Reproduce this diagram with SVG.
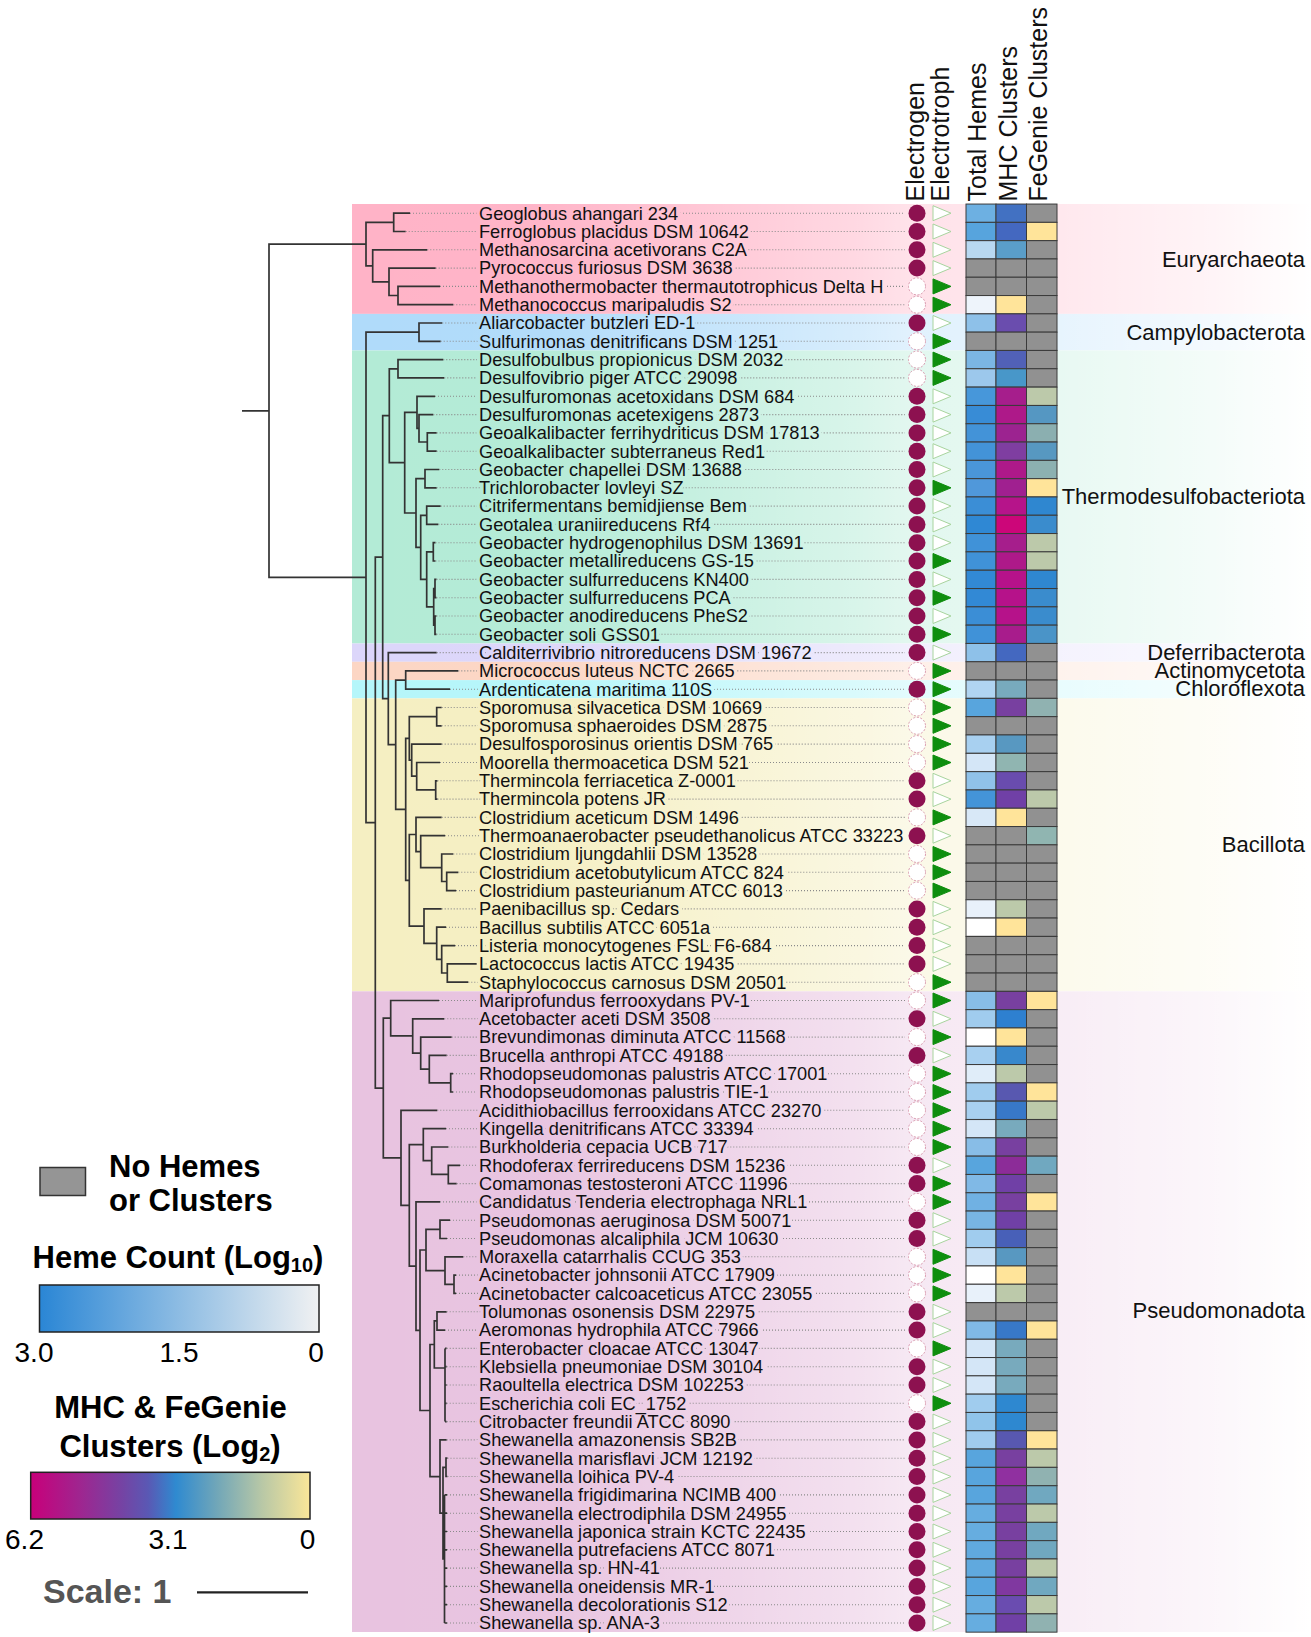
<svg xmlns="http://www.w3.org/2000/svg" width="1311" height="1637" viewBox="0 0 1311 1637">
<style>
text{font-family:"Liberation Sans",Arial,sans-serif}
.lab{font-size:18.2px;fill:#111}
.hd{font-size:25px;fill:#111}
.ph{font-size:22px;fill:#111;text-anchor:end}
.f{fill:#8D1150}
.o{fill:#fff;stroke:#D99AAE;stroke-width:1;stroke-dasharray:2 1.6}
.g{fill:#0E8E0E;stroke:#0E8E0E;stroke-width:1}
.w{fill:#fff;stroke:#A8D49E;stroke-width:1}
.c{stroke:#3a3a3a;stroke-width:1}
.n{fill:#919191}
.tree{fill:none;stroke:#333;stroke-width:1.7}
.dots{fill:none;stroke:#8a8a8a;stroke-width:1.1;stroke-dasharray:1 2}
.lg{font-weight:bold;font-size:31px;fill:#000}
.tk{font-size:28px;fill:#000;text-anchor:middle}
</style>
<defs>
<linearGradient id="fade" gradientUnits="userSpaceOnUse" x1="352" y1="0" x2="1311" y2="0">
<stop offset="0" stop-color="#fff" stop-opacity="0"/>
<stop offset="0.2" stop-color="#fff" stop-opacity="0.03"/>
<stop offset="0.53" stop-color="#fff" stop-opacity="0.5"/>
<stop offset="0.58" stop-color="#fff" stop-opacity="0.62"/>
<stop offset="0.74" stop-color="#fff" stop-opacity="0.7"/>
<stop offset="0.9" stop-color="#fff" stop-opacity="0.86"/>
<stop offset="1" stop-color="#fff" stop-opacity="1"/>
</linearGradient>
<linearGradient id="hg" x1="0" y1="0" x2="1" y2="0">
<stop offset="0" stop-color="#2A86D5"/>
<stop offset="0.5" stop-color="#8DBCE3"/>
<stop offset="1" stop-color="#F0F1F2"/>
</linearGradient>
<linearGradient id="cg" x1="0" y1="0" x2="1" y2="0">
<stop offset="0" stop-color="#C8007A"/>
<stop offset="0.18" stop-color="#9E2690"/>
<stop offset="0.33" stop-color="#7444A4"/>
<stop offset="0.42" stop-color="#5A58B4"/>
<stop offset="0.52" stop-color="#2F8AD0"/>
<stop offset="0.67" stop-color="#72A7B8"/>
<stop offset="0.83" stop-color="#B9C8A6"/>
<stop offset="1" stop-color="#FAE698"/>
</linearGradient>
<path id="tri" d="M933 -7.5L951 0L933 7.5Z"/>
<mask id="lm" maskUnits="userSpaceOnUse" x="0" y="0" width="1311" height="1637">
<rect width="1311" height="1637" fill="#fff"/>
<use href="#taxa" fill="#000" stroke="#000" stroke-width="7"/>
</mask>
</defs>

<g id="bands">
<rect x="352" y="204" width="959" height="109.9" fill="#FFB3C7"/>
<rect x="352" y="313.9" width="959" height="36.6" fill="#B0DBFA"/>
<rect x="352" y="350.5" width="959" height="293" fill="#B3EBD6"/>
<rect x="352" y="643.5" width="959" height="18.3" fill="#DCD6FA"/>
<rect x="352" y="661.8" width="959" height="18.3" fill="#FCD6C4"/>
<rect x="352" y="680.1" width="959" height="18.3" fill="#B5F6FA"/>
<rect x="352" y="698.4" width="959" height="292.9" fill="#F5EFC2"/>
<rect x="352" y="991.3" width="959" height="640.7" fill="#E8C3E0"/>
<rect x="352" y="204" width="959" height="1428" fill="url(#fade)"/>
</g>

<g id="connectors">
<g id="tree" class="tree">
<path d="M242 410.8H269 M366 244.1H269V577.4H366"/>
<path d="M393.7 222.3H366V265.8H372.7 M410 213.2H393.7V231.5H405.7 M427.3 249.8H372.7V281.8H389 M435.7 268.1H389V295.5H398 M440 286.4H398V304.7H453.3"/>
<path d="M419 332.2H366V822.6H375.3 M442.3 323H419V341.3H440.7"/>
<path d="M382.7 557.2H375.3V1088.1H383.3 M389.3 415.7H382.7V698.6H388.3"/>
<path d="M398 368.8H389.3V462.6H404.7 M443.3 359.6H398V377.9H444.3 M417 412.3H404.7V513H416 M435 396.3H417V428.3H419 M433.3 414.6H419V442H427.3 M436.7 432.9H427.3V451.2H436.7 M425 478.7H416V547.3H420.7 M439.3 469.5H425V487.8H436.7 M426.7 515.3H420.7V579.4H426.7 M440.7 506.1H426.7V524.4H438.3 M433.3 551.9H426.7V606.8H433.7 M435.5 542.7H433.3V561H435.5 M435 588.5H433.7V625.1H435 M436.5 579.4H435V597.7H436.5 M436.5 616H435V634.3H436.5"/>
<path d="M436.7 652.6H388.3V744.7H395.7 M405.7 680.1H395.7V809.4H405.7 M458.3 670.9H405.7V689.2H450"/>
<path d="M409.3 738.4H405.7V880.3H409.3 M436.7 716.7H409.3V760.2H411.7 M441.7 707.5H436.7V725.8H441.7 M441.7 744.1H411.7V776.2H416.7 M440 762.5H416.7V789.9H435.7 M437.5 780.8H435.7V799.1H437.5 M416 834.5H409.3V926.1H424 M441.7 817.4H416V851.7H420.7 M445 835.7H420.7V867.7H441.7 M453.3 854H441.7V881.5H446.7 M458.3 872.3H446.7V890.6H456 M441.7 908.9H424V943.3H436.7 M446 927.2H436.7V959.3H441.7 M455 945.6H441.7V973H447.3 M476.7 963.9H447.3V982.2H468.3"/>
<path d="M390.7 1018.2H383.3V1157.9H401 M439 1000.5H390.7V1035.9H412.7 M444.3 1018.8H412.7V1053.1H420.7 M451.7 1037.1H420.7V1069.2H429.3 M446.7 1055.4H429.3V1082.9H450.7 M453 1073.7H450.7V1092H453 M437.3 1110.3H401V1205.4H409.3 M423.3 1144.7H409.3V1266.1H416 M446 1128.7H423.3V1160.7H431.7 M448.3 1147H431.7V1174.4H448.3 M460 1165.3H448.3V1183.6H456.7 M440 1201.9H416V1330.3H420 M426 1250H420V1410.5H430 M440 1229.4H426V1270.6H445 M450 1220.2H440V1238.5H447 M463.3 1256.8H445V1284.3H454 M456 1275.1H454V1293.4H456 M434.3 1344.5H430V1476.6H440 M437 1320.9H434.3V1368H445 M446.7 1311.8H437V1330.1H445 M445 1348.4V1421.6 M445 1348.4H446.7 M445 1366.7H446.7 M445 1385H446.7 M445 1403.3H446.7 M445 1421.6H446.7 M446.7 1439.9H440V1513.2H443 M446 1467.4H443V1558.9H444.5 M447.5 1458.2H446V1476.5H447.5 M444.5 1494.9V1623 M444.5 1494.9H447 M444.5 1513.2H447 M444.5 1531.5H447 M444.5 1549.8H447 M444.5 1568.1H447 M444.5 1586.4H447 M444.5 1604.7H447 M444.5 1623H447"/>
</g>
<path id="leaders" class="dots" mask="url(#lm)" d="M410 213.2H905 M405.7 231.5H905 M427.3 249.8H905 M435.7 268.1H905 M440 286.4H905 M453.3 304.7H905 M442.3 323H905 M440.7 341.3H905 M443.3 359.6H905 M444.3 377.9H905 M435 396.3H905 M433.3 414.6H905 M436.7 432.9H905 M436.7 451.2H905 M439.3 469.5H905 M436.7 487.8H905 M440.7 506.1H905 M438.3 524.4H905 M435.5 542.7H905 M435.5 561H905 M436.5 579.4H905 M436.5 597.7H905 M436.5 616H905 M436.5 634.3H905 M436.7 652.6H905 M458.3 670.9H905 M450 689.2H905 M441.7 707.5H905 M441.7 725.8H905 M441.7 744.1H905 M440 762.5H905 M437.5 780.8H905 M437.5 799.1H905 M441.7 817.4H905 M445 835.7H905 M453.3 854H905 M458.3 872.3H905 M456 890.6H905 M441.7 908.9H905 M446 927.2H905 M455 945.6H905 M476.7 963.9H905 M468.3 982.2H905 M439 1000.5H905 M444.3 1018.8H905 M451.7 1037.1H905 M446.7 1055.4H905 M453 1073.7H905 M453 1092H905 M437.3 1110.3H905 M446 1128.7H905 M448.3 1147H905 M460 1165.3H905 M456.7 1183.6H905 M440 1201.9H905 M450 1220.2H905 M447 1238.5H905 M463.3 1256.8H905 M456 1275.1H905 M456 1293.4H905 M446.7 1311.8H905 M445 1330.1H905 M446.7 1348.4H905 M446.7 1366.7H905 M446.7 1385H905 M446.7 1403.3H905 M446.7 1421.6H905 M446.7 1439.9H905 M447.5 1458.2H905 M447.5 1476.5H905 M447 1494.9H905 M447 1513.2H905 M447 1531.5H905 M447 1549.8H905 M447 1568.1H905 M447 1586.4H905 M447 1604.7H905 M447 1623H905"/>
</g>

<g id="taxa">
<g id="t01" transform="translate(0 213.2)"><text class="lab" x="479" y="6.3">Geoglobus ahangari 234</text><circle class="f" cx="917" r="8.5"/><use href="#tri" class="w"/><rect class="c" x="966" y="-9.15" width="30" height="18.3" fill="#6DB0E2"/><rect class="c" x="996" y="-9.15" width="30.5" height="18.3" fill="#4271C2"/><rect class="c n" x="1026.5" y="-9.15" width="30.5" height="18.3"/></g>
<g id="t02" transform="translate(0 231.5)"><text class="lab" x="479" y="6.3">Ferroglobus placidus DSM 10642</text><circle class="f" cx="917" r="8.5"/><use href="#tri" class="w"/><rect class="c" x="966" y="-9.15" width="30" height="18.3" fill="#57A4DD"/><rect class="c" x="996" y="-9.15" width="30.5" height="18.3" fill="#4468C0"/><rect class="c" x="1026.5" y="-9.15" width="30.5" height="18.3" fill="#FFE49A"/></g>
<g id="t03" transform="translate(0 249.8)"><text class="lab" x="479" y="6.3">Methanosarcina acetivorans C2A</text><circle class="f" cx="917" r="8.5"/><use href="#tri" class="w"/><rect class="c" x="966" y="-9.15" width="30" height="18.3" fill="#B8D8F1"/><rect class="c" x="996" y="-9.15" width="30.5" height="18.3" fill="#5A9EC9"/><rect class="c n" x="1026.5" y="-9.15" width="30.5" height="18.3"/></g>
<g id="t04" transform="translate(0 268.1)"><text class="lab" x="479" y="6.3">Pyrococcus furiosus DSM 3638</text><circle class="f" cx="917" r="8.5"/><use href="#tri" class="w"/><rect class="c n" x="966" y="-9.15" width="30" height="18.3"/><rect class="c n" x="996" y="-9.15" width="30.5" height="18.3"/><rect class="c n" x="1026.5" y="-9.15" width="30.5" height="18.3"/></g>
<g id="t05" transform="translate(0 286.4)"><text class="lab" x="479" y="6.3">Methanothermobacter thermautotrophicus Delta H</text><circle class="o" cx="917" r="8.5"/><use href="#tri" class="g"/><rect class="c n" x="966" y="-9.15" width="30" height="18.3"/><rect class="c n" x="996" y="-9.15" width="30.5" height="18.3"/><rect class="c n" x="1026.5" y="-9.15" width="30.5" height="18.3"/></g>
<g id="t06" transform="translate(0 304.7)"><text class="lab" x="479" y="6.3">Methanococcus maripaludis S2</text><circle class="o" cx="917" r="8.5"/><use href="#tri" class="g"/><rect class="c" x="966" y="-9.15" width="30" height="18.3" fill="#EEF4FB"/><rect class="c" x="996" y="-9.15" width="30.5" height="18.3" fill="#FFE49A"/><rect class="c n" x="1026.5" y="-9.15" width="30.5" height="18.3"/></g>
<g id="t07" transform="translate(0 323)"><text class="lab" x="479" y="6.3">Aliarcobacter butzleri ED-1</text><circle class="f" cx="917" r="8.5"/><use href="#tri" class="w"/><rect class="c" x="966" y="-9.15" width="30" height="18.3" fill="#8EC1E9"/><rect class="c" x="996" y="-9.15" width="30.5" height="18.3" fill="#6A4DAE"/><rect class="c n" x="1026.5" y="-9.15" width="30.5" height="18.3"/></g>
<g id="t08" transform="translate(0 341.3)"><text class="lab" x="479" y="6.3">Sulfurimonas denitrificans DSM 1251</text><circle class="o" cx="917" r="8.5"/><use href="#tri" class="g"/><rect class="c n" x="966" y="-9.15" width="30" height="18.3"/><rect class="c n" x="996" y="-9.15" width="30.5" height="18.3"/><rect class="c n" x="1026.5" y="-9.15" width="30.5" height="18.3"/></g>
<g id="t09" transform="translate(0 359.6)"><text class="lab" x="479" y="6.3">Desulfobulbus propionicus DSM 2032</text><circle class="o" cx="917" r="8.5"/><use href="#tri" class="g"/><rect class="c" x="966" y="-9.15" width="30" height="18.3" fill="#7BB6E4"/><rect class="c" x="996" y="-9.15" width="30.5" height="18.3" fill="#5161B7"/><rect class="c n" x="1026.5" y="-9.15" width="30.5" height="18.3"/></g>
<g id="t10" transform="translate(0 377.9)"><text class="lab" x="479" y="6.3">Desulfovibrio piger ATCC 29098</text><circle class="o" cx="917" r="8.5"/><use href="#tri" class="g"/><rect class="c" x="966" y="-9.15" width="30" height="18.3" fill="#9CC8EC"/><rect class="c" x="996" y="-9.15" width="30.5" height="18.3" fill="#4897C9"/><rect class="c n" x="1026.5" y="-9.15" width="30.5" height="18.3"/></g>
<g id="t11" transform="translate(0 396.3)"><text class="lab" x="479" y="6.3">Desulfuromonas acetoxidans DSM 684</text><circle class="f" cx="917" r="8.5"/><use href="#tri" class="w"/><rect class="c" x="966" y="-9.15" width="30" height="18.3" fill="#4797DA"/><rect class="c" x="996" y="-9.15" width="30.5" height="18.3" fill="#A61E8C"/><rect class="c" x="1026.5" y="-9.15" width="30.5" height="18.3" fill="#BCC9AA"/></g>
<g id="t12" transform="translate(0 414.6)"><text class="lab" x="479" y="6.3">Desulfuromonas acetexigens 2873</text><circle class="f" cx="917" r="8.5"/><use href="#tri" class="w"/><rect class="c" x="966" y="-9.15" width="30" height="18.3" fill="#388CD6"/><rect class="c" x="996" y="-9.15" width="30.5" height="18.3" fill="#AE1989"/><rect class="c" x="1026.5" y="-9.15" width="30.5" height="18.3" fill="#5597C2"/></g>
<g id="t13" transform="translate(0 432.9)"><text class="lab" x="479" y="6.3">Geoalkalibacter ferrihydriticus DSM 17813</text><circle class="f" cx="917" r="8.5"/><use href="#tri" class="w"/><rect class="c" x="966" y="-9.15" width="30" height="18.3" fill="#4393D8"/><rect class="c" x="996" y="-9.15" width="30.5" height="18.3" fill="#9C2390"/><rect class="c" x="1026.5" y="-9.15" width="30.5" height="18.3" fill="#8BAFB0"/></g>
<g id="t14" transform="translate(0 451.2)"><text class="lab" x="479" y="6.3">Geoalkalibacter subterraneus Red1</text><circle class="f" cx="917" r="8.5"/><use href="#tri" class="w"/><rect class="c" x="966" y="-9.15" width="30" height="18.3" fill="#4393D8"/><rect class="c" x="996" y="-9.15" width="30.5" height="18.3" fill="#7F3EA1"/><rect class="c" x="1026.5" y="-9.15" width="30.5" height="18.3" fill="#5798C1"/></g>
<g id="t15" transform="translate(0 469.5)"><text class="lab" x="479" y="6.3">Geobacter chapellei DSM 13688</text><circle class="f" cx="917" r="8.5"/><use href="#tri" class="w"/><rect class="c" x="966" y="-9.15" width="30" height="18.3" fill="#4A96D9"/><rect class="c" x="996" y="-9.15" width="30.5" height="18.3" fill="#AE1989"/><rect class="c" x="1026.5" y="-9.15" width="30.5" height="18.3" fill="#8CB1B1"/></g>
<g id="t16" transform="translate(0 487.8)"><text class="lab" x="479" y="6.3">Trichlorobacter lovleyi SZ</text><circle class="f" cx="917" r="8.5"/><use href="#tri" class="g"/><rect class="c" x="966" y="-9.15" width="30" height="18.3" fill="#5098DA"/><rect class="c" x="996" y="-9.15" width="30.5" height="18.3" fill="#A02090"/><rect class="c" x="1026.5" y="-9.15" width="30.5" height="18.3" fill="#FFE49A"/></g>
<g id="t17" transform="translate(0 506.1)"><text class="lab" x="479" y="6.3">Citrifermentans bemidjiense Bem</text><circle class="f" cx="917" r="8.5"/><use href="#tri" class="w"/><rect class="c" x="966" y="-9.15" width="30" height="18.3" fill="#3B8ED6"/><rect class="c" x="996" y="-9.15" width="30.5" height="18.3" fill="#B6148A"/><rect class="c" x="1026.5" y="-9.15" width="30.5" height="18.3" fill="#2F87D0"/></g>
<g id="t18" transform="translate(0 524.4)"><text class="lab" x="479" y="6.3">Geotalea uraniireducens Rf4</text><circle class="f" cx="917" r="8.5"/><use href="#tri" class="w"/><rect class="c" x="966" y="-9.15" width="30" height="18.3" fill="#2F88D4"/><rect class="c" x="996" y="-9.15" width="30.5" height="18.3" fill="#CC0679"/><rect class="c" x="1026.5" y="-9.15" width="30.5" height="18.3" fill="#3A8CCD"/></g>
<g id="t19" transform="translate(0 542.7)"><text class="lab" x="479" y="6.3">Geobacter hydrogenophilus DSM 13691</text><circle class="f" cx="917" r="8.5"/><use href="#tri" class="w"/><rect class="c" x="966" y="-9.15" width="30" height="18.3" fill="#4092D8"/><rect class="c" x="996" y="-9.15" width="30.5" height="18.3" fill="#A61E8C"/><rect class="c" x="1026.5" y="-9.15" width="30.5" height="18.3" fill="#BCC9AA"/></g>
<g id="t20" transform="translate(0 561)"><text class="lab" x="479" y="6.3">Geobacter metallireducens GS-15</text><circle class="f" cx="917" r="8.5"/><use href="#tri" class="g"/><rect class="c" x="966" y="-9.15" width="30" height="18.3" fill="#4092D8"/><rect class="c" x="996" y="-9.15" width="30.5" height="18.3" fill="#AE1989"/><rect class="c" x="1026.5" y="-9.15" width="30.5" height="18.3" fill="#BCC9AA"/></g>
<g id="t21" transform="translate(0 579.4)"><text class="lab" x="479" y="6.3">Geobacter sulfurreducens KN400</text><circle class="f" cx="917" r="8.5"/><use href="#tri" class="w"/><rect class="c" x="966" y="-9.15" width="30" height="18.3" fill="#3289D5"/><rect class="c" x="996" y="-9.15" width="30.5" height="18.3" fill="#B6128A"/><rect class="c" x="1026.5" y="-9.15" width="30.5" height="18.3" fill="#2F87D0"/></g>
<g id="t22" transform="translate(0 597.7)"><text class="lab" x="479" y="6.3">Geobacter sulfurreducens PCA</text><circle class="f" cx="917" r="8.5"/><use href="#tri" class="g"/><rect class="c" x="966" y="-9.15" width="30" height="18.3" fill="#3289D5"/><rect class="c" x="996" y="-9.15" width="30.5" height="18.3" fill="#B6128A"/><rect class="c" x="1026.5" y="-9.15" width="30.5" height="18.3" fill="#3A8CCD"/></g>
<g id="t23" transform="translate(0 616)"><text class="lab" x="479" y="6.3">Geobacter anodireducens PheS2</text><circle class="f" cx="917" r="8.5"/><use href="#tri" class="w"/><rect class="c" x="966" y="-9.15" width="30" height="18.3" fill="#3B8ED6"/><rect class="c" x="996" y="-9.15" width="30.5" height="18.3" fill="#B6128A"/><rect class="c" x="1026.5" y="-9.15" width="30.5" height="18.3" fill="#3A8CCD"/></g>
<g id="t24" transform="translate(0 634.3)"><text class="lab" x="479" y="6.3">Geobacter soli GSS01</text><circle class="f" cx="917" r="8.5"/><use href="#tri" class="g"/><rect class="c" x="966" y="-9.15" width="30" height="18.3" fill="#4092D8"/><rect class="c" x="996" y="-9.15" width="30.5" height="18.3" fill="#A81C8C"/><rect class="c" x="1026.5" y="-9.15" width="30.5" height="18.3" fill="#4A94C8"/></g>
<g id="t25" transform="translate(0 652.6)"><text class="lab" x="479" y="6.3">Calditerrivibrio nitroreducens DSM 19672</text><circle class="f" cx="917" r="8.5"/><use href="#tri" class="w"/><rect class="c" x="966" y="-9.15" width="30" height="18.3" fill="#8EC1E9"/><rect class="c" x="996" y="-9.15" width="30.5" height="18.3" fill="#4468C0"/><rect class="c n" x="1026.5" y="-9.15" width="30.5" height="18.3"/></g>
<g id="t26" transform="translate(0 670.9)"><text class="lab" x="479" y="6.3">Micrococcus luteus NCTC 2665</text><circle class="o" cx="917" r="8.5"/><use href="#tri" class="g"/><rect class="c n" x="966" y="-9.15" width="30" height="18.3"/><rect class="c n" x="996" y="-9.15" width="30.5" height="18.3"/><rect class="c n" x="1026.5" y="-9.15" width="30.5" height="18.3"/></g>
<g id="t27" transform="translate(0 689.2)"><text class="lab" x="479" y="6.3">Ardenticatena maritima 110S</text><circle class="f" cx="917" r="8.5"/><use href="#tri" class="g"/><rect class="c" x="966" y="-9.15" width="30" height="18.3" fill="#B0D4F1"/><rect class="c" x="996" y="-9.15" width="30.5" height="18.3" fill="#78AABD"/><rect class="c n" x="1026.5" y="-9.15" width="30.5" height="18.3"/></g>
<g id="t28" transform="translate(0 707.5)"><text class="lab" x="479" y="6.3">Sporomusa silvacetica DSM 10669</text><circle class="o" cx="917" r="8.5"/><use href="#tri" class="g"/><rect class="c" x="966" y="-9.15" width="30" height="18.3" fill="#58A5DD"/><rect class="c" x="996" y="-9.15" width="30.5" height="18.3" fill="#7840A0"/><rect class="c" x="1026.5" y="-9.15" width="30.5" height="18.3" fill="#90B2B1"/></g>
<g id="t29" transform="translate(0 725.8)"><text class="lab" x="479" y="6.3">Sporomusa sphaeroides DSM 2875</text><circle class="o" cx="917" r="8.5"/><use href="#tri" class="g"/><rect class="c n" x="966" y="-9.15" width="30" height="18.3"/><rect class="c n" x="996" y="-9.15" width="30.5" height="18.3"/><rect class="c n" x="1026.5" y="-9.15" width="30.5" height="18.3"/></g>
<g id="t30" transform="translate(0 744.1)"><text class="lab" x="479" y="6.3">Desulfosporosinus orientis DSM 765</text><circle class="o" cx="917" r="8.5"/><use href="#tri" class="g"/><rect class="c" x="966" y="-9.15" width="30" height="18.3" fill="#A8D0F0"/><rect class="c" x="996" y="-9.15" width="30.5" height="18.3" fill="#5898C1"/><rect class="c n" x="1026.5" y="-9.15" width="30.5" height="18.3"/></g>
<g id="t31" transform="translate(0 762.5)"><text class="lab" x="479" y="6.3">Moorella thermoacetica DSM 521</text><circle class="o" cx="917" r="8.5"/><use href="#tri" class="g"/><rect class="c" x="966" y="-9.15" width="30" height="18.3" fill="#D4E6F7"/><rect class="c" x="996" y="-9.15" width="30.5" height="18.3" fill="#90B5B1"/><rect class="c n" x="1026.5" y="-9.15" width="30.5" height="18.3"/></g>
<g id="t32" transform="translate(0 780.8)"><text class="lab" x="479" y="6.3">Thermincola ferriacetica Z-0001</text><circle class="f" cx="917" r="8.5"/><use href="#tri" class="w"/><rect class="c" x="966" y="-9.15" width="30" height="18.3" fill="#90C2E9"/><rect class="c" x="996" y="-9.15" width="30.5" height="18.3" fill="#694CAE"/><rect class="c n" x="1026.5" y="-9.15" width="30.5" height="18.3"/></g>
<g id="t33" transform="translate(0 799.1)"><text class="lab" x="479" y="6.3">Thermincola potens JR</text><circle class="f" cx="917" r="8.5"/><use href="#tri" class="w"/><rect class="c" x="966" y="-9.15" width="30" height="18.3" fill="#4494D8"/><rect class="c" x="996" y="-9.15" width="30.5" height="18.3" fill="#7040A6"/><rect class="c" x="1026.5" y="-9.15" width="30.5" height="18.3" fill="#BCC9AA"/></g>
<g id="t34" transform="translate(0 817.4)"><text class="lab" x="479" y="6.3">Clostridium aceticum DSM 1496</text><circle class="o" cx="917" r="8.5"/><use href="#tri" class="g"/><rect class="c" x="966" y="-9.15" width="30" height="18.3" fill="#D8E8F7"/><rect class="c" x="996" y="-9.15" width="30.5" height="18.3" fill="#FFE49A"/><rect class="c n" x="1026.5" y="-9.15" width="30.5" height="18.3"/></g>
<g id="t35" transform="translate(0 835.7)"><text class="lab" x="479" y="6.3">Thermoanaerobacter pseudethanolicus ATCC 33223</text><circle class="f" cx="917" r="8.5"/><use href="#tri" class="w"/><rect class="c n" x="966" y="-9.15" width="30" height="18.3"/><rect class="c n" x="996" y="-9.15" width="30.5" height="18.3"/><rect class="c" x="1026.5" y="-9.15" width="30.5" height="18.3" fill="#90B5B1"/></g>
<g id="t36" transform="translate(0 854)"><text class="lab" x="479" y="6.3">Clostridium ljungdahlii DSM 13528</text><circle class="o" cx="917" r="8.5"/><use href="#tri" class="g"/><rect class="c n" x="966" y="-9.15" width="30" height="18.3"/><rect class="c n" x="996" y="-9.15" width="30.5" height="18.3"/><rect class="c n" x="1026.5" y="-9.15" width="30.5" height="18.3"/></g>
<g id="t37" transform="translate(0 872.3)"><text class="lab" x="479" y="6.3">Clostridium acetobutylicum ATCC 824</text><circle class="o" cx="917" r="8.5"/><use href="#tri" class="g"/><rect class="c n" x="966" y="-9.15" width="30" height="18.3"/><rect class="c n" x="996" y="-9.15" width="30.5" height="18.3"/><rect class="c n" x="1026.5" y="-9.15" width="30.5" height="18.3"/></g>
<g id="t38" transform="translate(0 890.6)"><text class="lab" x="479" y="6.3">Clostridium pasteurianum ATCC 6013</text><circle class="o" cx="917" r="8.5"/><use href="#tri" class="g"/><rect class="c n" x="966" y="-9.15" width="30" height="18.3"/><rect class="c n" x="996" y="-9.15" width="30.5" height="18.3"/><rect class="c n" x="1026.5" y="-9.15" width="30.5" height="18.3"/></g>
<g id="t39" transform="translate(0 908.9)"><text class="lab" x="479" y="6.3">Paenibacillus sp. Cedars</text><circle class="f" cx="917" r="8.5"/><use href="#tri" class="w"/><rect class="c" x="966" y="-9.15" width="30" height="18.3" fill="#E8F1FA"/><rect class="c" x="996" y="-9.15" width="30.5" height="18.3" fill="#BCC9AA"/><rect class="c n" x="1026.5" y="-9.15" width="30.5" height="18.3"/></g>
<g id="t40" transform="translate(0 927.2)"><text class="lab" x="479" y="6.3">Bacillus subtilis ATCC 6051a</text><circle class="f" cx="917" r="8.5"/><use href="#tri" class="w"/><rect class="c" x="966" y="-9.15" width="30" height="18.3" fill="#FFFFFF"/><rect class="c" x="996" y="-9.15" width="30.5" height="18.3" fill="#FFE49A"/><rect class="c n" x="1026.5" y="-9.15" width="30.5" height="18.3"/></g>
<g id="t41" transform="translate(0 945.6)"><text class="lab" x="479" y="6.3">Listeria monocytogenes FSL F6-684</text><circle class="f" cx="917" r="8.5"/><use href="#tri" class="w"/><rect class="c n" x="966" y="-9.15" width="30" height="18.3"/><rect class="c n" x="996" y="-9.15" width="30.5" height="18.3"/><rect class="c n" x="1026.5" y="-9.15" width="30.5" height="18.3"/></g>
<g id="t42" transform="translate(0 963.9)"><text class="lab" x="479" y="6.3">Lactococcus lactis ATCC 19435</text><circle class="f" cx="917" r="8.5"/><use href="#tri" class="w"/><rect class="c n" x="966" y="-9.15" width="30" height="18.3"/><rect class="c n" x="996" y="-9.15" width="30.5" height="18.3"/><rect class="c n" x="1026.5" y="-9.15" width="30.5" height="18.3"/></g>
<g id="t43" transform="translate(0 982.2)"><text class="lab" x="479" y="6.3">Staphylococcus carnosus DSM 20501</text><circle class="o" cx="917" r="8.5"/><use href="#tri" class="g"/><rect class="c n" x="966" y="-9.15" width="30" height="18.3"/><rect class="c n" x="996" y="-9.15" width="30.5" height="18.3"/><rect class="c n" x="1026.5" y="-9.15" width="30.5" height="18.3"/></g>
<g id="t44" transform="translate(0 1000.5)"><text class="lab" x="479" y="6.3">Mariprofundus ferrooxydans PV-1</text><circle class="o" cx="917" r="8.5"/><use href="#tri" class="g"/><rect class="c" x="966" y="-9.15" width="30" height="18.3" fill="#88BDE7"/><rect class="c" x="996" y="-9.15" width="30.5" height="18.3" fill="#7840A0"/><rect class="c" x="1026.5" y="-9.15" width="30.5" height="18.3" fill="#FFE49A"/></g>
<g id="t45" transform="translate(0 1018.8)"><text class="lab" x="479" y="6.3">Acetobacter aceti DSM 3508</text><circle class="f" cx="917" r="8.5"/><use href="#tri" class="w"/><rect class="c" x="966" y="-9.15" width="30" height="18.3" fill="#A0CCEE"/><rect class="c" x="996" y="-9.15" width="30.5" height="18.3" fill="#2E80D0"/><rect class="c n" x="1026.5" y="-9.15" width="30.5" height="18.3"/></g>
<g id="t46" transform="translate(0 1037.1)"><text class="lab" x="479" y="6.3">Brevundimonas diminuta ATCC 11568</text><circle class="o" cx="917" r="8.5"/><use href="#tri" class="g"/><rect class="c" x="966" y="-9.15" width="30" height="18.3" fill="#FFFFFF"/><rect class="c" x="996" y="-9.15" width="30.5" height="18.3" fill="#FFE49A"/><rect class="c n" x="1026.5" y="-9.15" width="30.5" height="18.3"/></g>
<g id="t47" transform="translate(0 1055.4)"><text class="lab" x="479" y="6.3">Brucella anthropi ATCC 49188</text><circle class="f" cx="917" r="8.5"/><use href="#tri" class="w"/><rect class="c" x="966" y="-9.15" width="30" height="18.3" fill="#A8D0F0"/><rect class="c" x="996" y="-9.15" width="30.5" height="18.3" fill="#3888CC"/><rect class="c n" x="1026.5" y="-9.15" width="30.5" height="18.3"/></g>
<g id="t48" transform="translate(0 1073.7)"><text class="lab" x="479" y="6.3">Rhodopseudomonas palustris ATCC 17001</text><circle class="o" cx="917" r="8.5"/><use href="#tri" class="g"/><rect class="c" x="966" y="-9.15" width="30" height="18.3" fill="#E0EDF9"/><rect class="c" x="996" y="-9.15" width="30.5" height="18.3" fill="#BCC9AA"/><rect class="c n" x="1026.5" y="-9.15" width="30.5" height="18.3"/></g>
<g id="t49" transform="translate(0 1092)"><text class="lab" x="479" y="6.3">Rhodopseudomonas palustris TIE-1</text><circle class="o" cx="917" r="8.5"/><use href="#tri" class="g"/><rect class="c" x="966" y="-9.15" width="30" height="18.3" fill="#A0CCEE"/><rect class="c" x="996" y="-9.15" width="30.5" height="18.3" fill="#5858B0"/><rect class="c" x="1026.5" y="-9.15" width="30.5" height="18.3" fill="#FFE49A"/></g>
<g id="t50" transform="translate(0 1110.3)"><text class="lab" x="479" y="6.3">Acidithiobacillus ferrooxidans ATCC 23270</text><circle class="o" cx="917" r="8.5"/><use href="#tri" class="g"/><rect class="c" x="966" y="-9.15" width="30" height="18.3" fill="#A8D0F0"/><rect class="c" x="996" y="-9.15" width="30.5" height="18.3" fill="#3878C8"/><rect class="c" x="1026.5" y="-9.15" width="30.5" height="18.3" fill="#BCC9AA"/></g>
<g id="t51" transform="translate(0 1128.7)"><text class="lab" x="479" y="6.3">Kingella denitrificans ATCC 33394</text><circle class="o" cx="917" r="8.5"/><use href="#tri" class="g"/><rect class="c" x="966" y="-9.15" width="30" height="18.3" fill="#D4E6F7"/><rect class="c" x="996" y="-9.15" width="30.5" height="18.3" fill="#78AABD"/><rect class="c n" x="1026.5" y="-9.15" width="30.5" height="18.3"/></g>
<g id="t52" transform="translate(0 1147)"><text class="lab" x="479" y="6.3">Burkholderia cepacia UCB 717</text><circle class="o" cx="917" r="8.5"/><use href="#tri" class="g"/><rect class="c" x="966" y="-9.15" width="30" height="18.3" fill="#88BDE7"/><rect class="c" x="996" y="-9.15" width="30.5" height="18.3" fill="#7840A0"/><rect class="c n" x="1026.5" y="-9.15" width="30.5" height="18.3"/></g>
<g id="t53" transform="translate(0 1165.3)"><text class="lab" x="479" y="6.3">Rhodoferax ferrireducens DSM 15236</text><circle class="f" cx="917" r="8.5"/><use href="#tri" class="w"/><rect class="c" x="966" y="-9.15" width="30" height="18.3" fill="#58A5DD"/><rect class="c" x="996" y="-9.15" width="30.5" height="18.3" fill="#8C2C98"/><rect class="c" x="1026.5" y="-9.15" width="30.5" height="18.3" fill="#70A8C0"/></g>
<g id="t54" transform="translate(0 1183.6)"><text class="lab" x="479" y="6.3">Comamonas testosteroni ATCC 11996</text><circle class="f" cx="917" r="8.5"/><use href="#tri" class="g"/><rect class="c" x="966" y="-9.15" width="30" height="18.3" fill="#80B9E6"/><rect class="c" x="996" y="-9.15" width="30.5" height="18.3" fill="#7040A6"/><rect class="c n" x="1026.5" y="-9.15" width="30.5" height="18.3"/></g>
<g id="t55" transform="translate(0 1201.9)"><text class="lab" x="479" y="6.3">Candidatus Tenderia electrophaga NRL1</text><circle class="o" cx="917" r="8.5"/><use href="#tri" class="g"/><rect class="c" x="966" y="-9.15" width="30" height="18.3" fill="#70B1E3"/><rect class="c" x="996" y="-9.15" width="30.5" height="18.3" fill="#7840A0"/><rect class="c" x="1026.5" y="-9.15" width="30.5" height="18.3" fill="#FFE49A"/></g>
<g id="t56" transform="translate(0 1220.2)"><text class="lab" x="479" y="6.3">Pseudomonas aeruginosa DSM 50071</text><circle class="f" cx="917" r="8.5"/><use href="#tri" class="w"/><rect class="c" x="966" y="-9.15" width="30" height="18.3" fill="#78B5E3"/><rect class="c" x="996" y="-9.15" width="30.5" height="18.3" fill="#7040A6"/><rect class="c n" x="1026.5" y="-9.15" width="30.5" height="18.3"/></g>
<g id="t57" transform="translate(0 1238.5)"><text class="lab" x="479" y="6.3">Pseudomonas alcaliphila JCM 10630</text><circle class="f" cx="917" r="8.5"/><use href="#tri" class="w"/><rect class="c" x="966" y="-9.15" width="30" height="18.3" fill="#A0CCEE"/><rect class="c" x="996" y="-9.15" width="30.5" height="18.3" fill="#4860B8"/><rect class="c n" x="1026.5" y="-9.15" width="30.5" height="18.3"/></g>
<g id="t58" transform="translate(0 1256.8)"><text class="lab" x="479" y="6.3">Moraxella catarrhalis CCUG 353</text><circle class="o" cx="917" r="8.5"/><use href="#tri" class="g"/><rect class="c" x="966" y="-9.15" width="30" height="18.3" fill="#C8E0F5"/><rect class="c" x="996" y="-9.15" width="30.5" height="18.3" fill="#5898C1"/><rect class="c n" x="1026.5" y="-9.15" width="30.5" height="18.3"/></g>
<g id="t59" transform="translate(0 1275.1)"><text class="lab" x="479" y="6.3">Acinetobacter johnsonii ATCC 17909</text><circle class="o" cx="917" r="8.5"/><use href="#tri" class="g"/><rect class="c" x="966" y="-9.15" width="30" height="18.3" fill="#FFFFFF"/><rect class="c" x="996" y="-9.15" width="30.5" height="18.3" fill="#FFE49A"/><rect class="c n" x="1026.5" y="-9.15" width="30.5" height="18.3"/></g>
<g id="t60" transform="translate(0 1293.4)"><text class="lab" x="479" y="6.3">Acinetobacter calcoaceticus ATCC 23055</text><circle class="o" cx="917" r="8.5"/><use href="#tri" class="g"/><rect class="c" x="966" y="-9.15" width="30" height="18.3" fill="#E8F1FA"/><rect class="c" x="996" y="-9.15" width="30.5" height="18.3" fill="#BCC9AA"/><rect class="c n" x="1026.5" y="-9.15" width="30.5" height="18.3"/></g>
<g id="t61" transform="translate(0 1311.8)"><text class="lab" x="479" y="6.3">Tolumonas osonensis DSM 22975</text><circle class="f" cx="917" r="8.5"/><use href="#tri" class="w"/><rect class="c n" x="966" y="-9.15" width="30" height="18.3"/><rect class="c n" x="996" y="-9.15" width="30.5" height="18.3"/><rect class="c n" x="1026.5" y="-9.15" width="30.5" height="18.3"/></g>
<g id="t62" transform="translate(0 1330.1)"><text class="lab" x="479" y="6.3">Aeromonas hydrophila ATCC 7966</text><circle class="f" cx="917" r="8.5"/><use href="#tri" class="w"/><rect class="c" x="966" y="-9.15" width="30" height="18.3" fill="#80B9E6"/><rect class="c" x="996" y="-9.15" width="30.5" height="18.3" fill="#3878C8"/><rect class="c" x="1026.5" y="-9.15" width="30.5" height="18.3" fill="#FFE49A"/></g>
<g id="t63" transform="translate(0 1348.4)"><text class="lab" x="479" y="6.3">Enterobacter cloacae ATCC 13047</text><circle class="o" cx="917" r="8.5"/><use href="#tri" class="g"/><rect class="c" x="966" y="-9.15" width="30" height="18.3" fill="#D4E6F7"/><rect class="c" x="996" y="-9.15" width="30.5" height="18.3" fill="#78AABD"/><rect class="c n" x="1026.5" y="-9.15" width="30.5" height="18.3"/></g>
<g id="t64" transform="translate(0 1366.7)"><text class="lab" x="479" y="6.3">Klebsiella pneumoniae DSM 30104</text><circle class="f" cx="917" r="8.5"/><use href="#tri" class="w"/><rect class="c" x="966" y="-9.15" width="30" height="18.3" fill="#D4E6F7"/><rect class="c" x="996" y="-9.15" width="30.5" height="18.3" fill="#78AABD"/><rect class="c n" x="1026.5" y="-9.15" width="30.5" height="18.3"/></g>
<g id="t65" transform="translate(0 1385)"><text class="lab" x="479" y="6.3">Raoultella electrica DSM 102253</text><circle class="f" cx="917" r="8.5"/><use href="#tri" class="w"/><rect class="c" x="966" y="-9.15" width="30" height="18.3" fill="#D4E6F7"/><rect class="c" x="996" y="-9.15" width="30.5" height="18.3" fill="#78AABD"/><rect class="c n" x="1026.5" y="-9.15" width="30.5" height="18.3"/></g>
<g id="t66" transform="translate(0 1403.3)"><text class="lab" x="479" y="6.3">Escherichia coli EC_1752</text><circle class="o" cx="917" r="8.5"/><use href="#tri" class="g"/><rect class="c" x="966" y="-9.15" width="30" height="18.3" fill="#A0CCEE"/><rect class="c" x="996" y="-9.15" width="30.5" height="18.3" fill="#2E88D0"/><rect class="c n" x="1026.5" y="-9.15" width="30.5" height="18.3"/></g>
<g id="t67" transform="translate(0 1421.6)"><text class="lab" x="479" y="6.3">Citrobacter freundii ATCC 8090</text><circle class="f" cx="917" r="8.5"/><use href="#tri" class="w"/><rect class="c" x="966" y="-9.15" width="30" height="18.3" fill="#90C4EA"/><rect class="c" x="996" y="-9.15" width="30.5" height="18.3" fill="#2E88D0"/><rect class="c n" x="1026.5" y="-9.15" width="30.5" height="18.3"/></g>
<g id="t68" transform="translate(0 1439.9)"><text class="lab" x="479" y="6.3">Shewanella amazonensis SB2B</text><circle class="f" cx="917" r="8.5"/><use href="#tri" class="w"/><rect class="c" x="966" y="-9.15" width="30" height="18.3" fill="#A0CCEE"/><rect class="c" x="996" y="-9.15" width="30.5" height="18.3" fill="#5858B0"/><rect class="c" x="1026.5" y="-9.15" width="30.5" height="18.3" fill="#FFE49A"/></g>
<g id="t69" transform="translate(0 1458.2)"><text class="lab" x="479" y="6.3">Shewanella marisflavi JCM 12192</text><circle class="f" cx="917" r="8.5"/><use href="#tri" class="w"/><rect class="c" x="966" y="-9.15" width="30" height="18.3" fill="#58A5DD"/><rect class="c" x="996" y="-9.15" width="30.5" height="18.3" fill="#7840A0"/><rect class="c" x="1026.5" y="-9.15" width="30.5" height="18.3" fill="#BCC9AA"/></g>
<g id="t70" transform="translate(0 1476.5)"><text class="lab" x="479" y="6.3">Shewanella loihica PV-4</text><circle class="f" cx="917" r="8.5"/><use href="#tri" class="w"/><rect class="c" x="966" y="-9.15" width="30" height="18.3" fill="#58A5DD"/><rect class="c" x="996" y="-9.15" width="30.5" height="18.3" fill="#9030A0"/><rect class="c" x="1026.5" y="-9.15" width="30.5" height="18.3" fill="#90B2B1"/></g>
<g id="t71" transform="translate(0 1494.9)"><text class="lab" x="479" y="6.3">Shewanella frigidimarina NCIMB 400</text><circle class="f" cx="917" r="8.5"/><use href="#tri" class="w"/><rect class="c" x="966" y="-9.15" width="30" height="18.3" fill="#58A5DD"/><rect class="c" x="996" y="-9.15" width="30.5" height="18.3" fill="#7840A0"/><rect class="c" x="1026.5" y="-9.15" width="30.5" height="18.3" fill="#70A8C0"/></g>
<g id="t72" transform="translate(0 1513.2)"><text class="lab" x="479" y="6.3">Shewanella electrodiphila DSM 24955</text><circle class="f" cx="917" r="8.5"/><use href="#tri" class="w"/><rect class="c" x="966" y="-9.15" width="30" height="18.3" fill="#66ADE0"/><rect class="c" x="996" y="-9.15" width="30.5" height="18.3" fill="#7840A0"/><rect class="c" x="1026.5" y="-9.15" width="30.5" height="18.3" fill="#BCC9AA"/></g>
<g id="t73" transform="translate(0 1531.5)"><text class="lab" x="479" y="6.3">Shewanella japonica strain KCTC 22435</text><circle class="f" cx="917" r="8.5"/><use href="#tri" class="w"/><rect class="c" x="966" y="-9.15" width="30" height="18.3" fill="#66ADE0"/><rect class="c" x="996" y="-9.15" width="30.5" height="18.3" fill="#7840A0"/><rect class="c" x="1026.5" y="-9.15" width="30.5" height="18.3" fill="#70A8C0"/></g>
<g id="t74" transform="translate(0 1549.8)"><text class="lab" x="479" y="6.3">Shewanella putrefaciens ATCC 8071</text><circle class="f" cx="917" r="8.5"/><use href="#tri" class="w"/><rect class="c" x="966" y="-9.15" width="30" height="18.3" fill="#60A9DE"/><rect class="c" x="996" y="-9.15" width="30.5" height="18.3" fill="#7840A0"/><rect class="c" x="1026.5" y="-9.15" width="30.5" height="18.3" fill="#70A8C0"/></g>
<g id="t75" transform="translate(0 1568.1)"><text class="lab" x="479" y="6.3">Shewanella sp. HN-41</text><circle class="f" cx="917" r="8.5"/><use href="#tri" class="w"/><rect class="c" x="966" y="-9.15" width="30" height="18.3" fill="#60A9DE"/><rect class="c" x="996" y="-9.15" width="30.5" height="18.3" fill="#7840A0"/><rect class="c" x="1026.5" y="-9.15" width="30.5" height="18.3" fill="#BCC9AA"/></g>
<g id="t76" transform="translate(0 1586.4)"><text class="lab" x="479" y="6.3">Shewanella oneidensis MR-1</text><circle class="f" cx="917" r="8.5"/><use href="#tri" class="w"/><rect class="c" x="966" y="-9.15" width="30" height="18.3" fill="#58A5DD"/><rect class="c" x="996" y="-9.15" width="30.5" height="18.3" fill="#8038A0"/><rect class="c" x="1026.5" y="-9.15" width="30.5" height="18.3" fill="#70A8C0"/></g>
<g id="t77" transform="translate(0 1604.7)"><text class="lab" x="479" y="6.3">Shewanella decolorationis S12</text><circle class="f" cx="917" r="8.5"/><use href="#tri" class="w"/><rect class="c" x="966" y="-9.15" width="30" height="18.3" fill="#66ADE0"/><rect class="c" x="996" y="-9.15" width="30.5" height="18.3" fill="#6A4CB0"/><rect class="c" x="1026.5" y="-9.15" width="30.5" height="18.3" fill="#BCC9AA"/></g>
<g id="t78" transform="translate(0 1623)"><text class="lab" x="479" y="6.3">Shewanella sp. ANA-3</text><circle class="f" cx="917" r="8.5"/><use href="#tri" class="w"/><rect class="c" x="966" y="-9.15" width="30" height="18.3" fill="#66ADE0"/><rect class="c" x="996" y="-9.15" width="30.5" height="18.3" fill="#7040A6"/><rect class="c" x="1026.5" y="-9.15" width="30.5" height="18.3" fill="#90B2B1"/></g>
</g>

<g id="headers">
<text class="hd" transform="translate(924 201.5) rotate(-90)">Electrogen</text>
<text class="hd" transform="translate(949 201.5) rotate(-90)">Electrotroph</text>
<text class="hd" transform="translate(986 201.5) rotate(-90)">Total Hemes</text>
<text class="hd" transform="translate(1016.5 201.5) rotate(-90)">MHC Clusters</text>
<text class="hd" transform="translate(1046.5 201.5) rotate(-90)">FeGenie Clusters</text>
</g>

<g id="phyla">
<text class="ph" x="1305" y="266.7">Euryarchaeota</text>
<text class="ph" x="1305" y="339.5">Campylobacterota</text>
<text class="ph" x="1305" y="504">Thermodesulfobacteriota</text>
<text class="ph" x="1305" y="659.5">Deferribacterota</text>
<text class="ph" x="1305" y="677.5">Actinomycetota</text>
<text class="ph" x="1305" y="696">Chloroflexota</text>
<text class="ph" x="1305" y="851.5">Bacillota</text>
<text class="ph" x="1305" y="1318">Pseudomonadota</text>
</g>

<g id="legend">
<rect x="40" y="1167.5" width="45.5" height="28" fill="#959595" stroke="#333" stroke-width="1.5"/>
<text class="lg" x="109" y="1177">No Hemes</text>
<text class="lg" x="109" y="1211">or Clusters</text>
<text class="lg" x="178" y="1268" text-anchor="middle">Heme Count (Log<tspan font-size="20" dy="4">10</tspan><tspan dy="-4">)</tspan></text>
<rect x="39.5" y="1285" width="279.5" height="47" fill="url(#hg)" stroke="#222" stroke-width="1.5"/>
<text class="tk" x="34" y="1361.5">3.0</text>
<text class="tk" x="179" y="1361.5">1.5</text>
<text class="tk" x="316" y="1361.5">0</text>
<text class="lg" x="170.5" y="1418" text-anchor="middle">MHC &amp; FeGenie</text>
<text class="lg" x="170" y="1456.5" text-anchor="middle">Clusters (Log<tspan font-size="20" dy="4">2</tspan><tspan dy="-4">)</tspan></text>
<rect x="30.7" y="1472.3" width="279.3" height="46.7" fill="url(#cg)" stroke="#222" stroke-width="1.5"/>
<text class="tk" x="24.5" y="1549">6.2</text>
<text class="tk" x="168" y="1549">3.1</text>
<text class="tk" x="307.5" y="1549">0</text>
<text x="43" y="1603" font-size="34" font-weight="bold" fill="#555">Scale: 1</text>
<line x1="197" y1="1592.3" x2="308" y2="1592.3" stroke="#222" stroke-width="2.2"/>
</g>
</svg>
